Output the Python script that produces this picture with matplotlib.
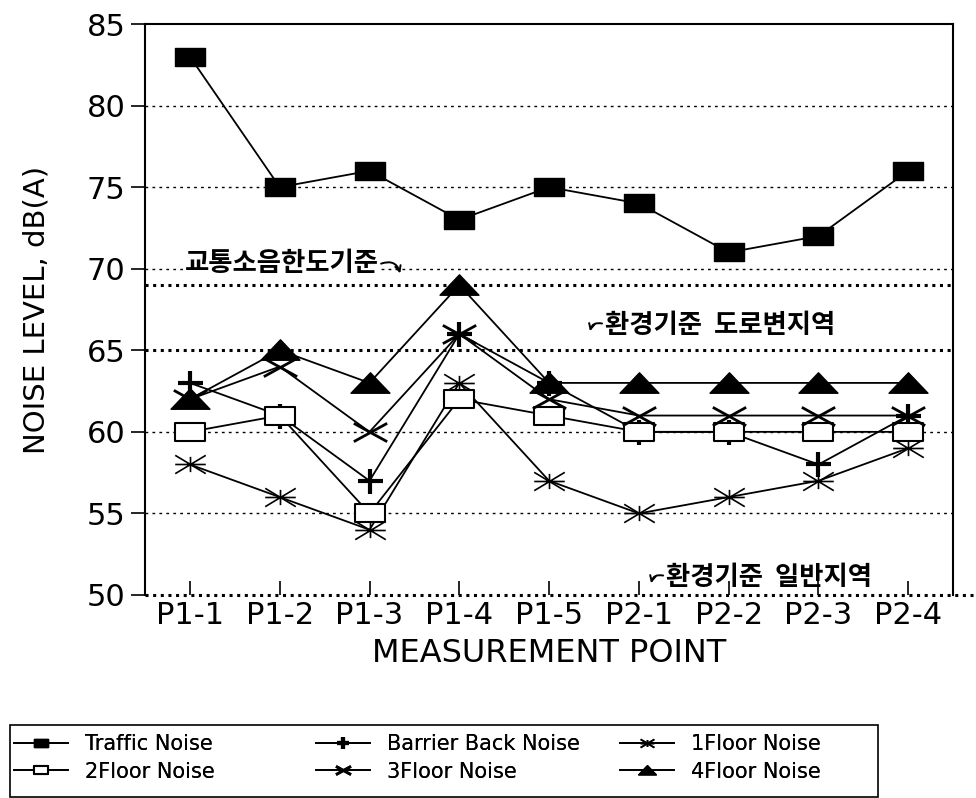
import matplotlib
matplotlib.use("Agg")
import matplotlib.pyplot as plt
from matplotlib.path import Path
from matplotlib.patches import Rectangle

plt.rcParams['font.family'] = ['DejaVu Sans', 'Noto Sans CJK KR']

points = ["P1-1", "P1-2", "P1-3", "P1-4", "P1-5", "P2-1", "P2-2", "P2-3", "P2-4"]
traffic = [83, 75, 76, 73, 75, 74, 71, 72, 76]
barrier = [63, 61, 57, 66, 63, 60, 60, 58, 61]
floor1 = [58, 56, 54, 63, 57, 55, 56, 57, 59]
floor2 = [60, 61, 55, 62, 61, 60, 60, 60, 60]
floor3 = [62, 64, 60, 66, 62, 61, 61, 61, 61]
floor4 = [62, 65, 63, 69, 63, 63, 63, 63, 63]
yticks = [50, 55, 60, 65, 70, 75, 80, 85]
ref_traffic_limit = 69
ref_roadside = 65
ref_general = 50

rect = Path([(-1, -0.6), (1, -0.6), (1, 0.6), (-1, 0.6), (-1, -0.6)],
            [Path.MOVETO, Path.LINETO, Path.LINETO, Path.LINETO, Path.CLOSEPOLY])
tri = Path([(-1, -0.5), (1, -0.5), (0, 0.55), (-1, -0.5)],
           [Path.MOVETO, Path.LINETO, Path.LINETO, Path.CLOSEPOLY])
aster = Path([(-1, 0), (1, 0), (-1, -0.6), (1, 0.6), (-1, 0.6), (1, -0.6), (0, -0.5), (0, 0.5)],
             [Path.MOVETO, Path.LINETO, Path.MOVETO, Path.LINETO, Path.MOVETO, Path.LINETO,
              Path.MOVETO, Path.LINETO])
xmark = Path([(-1, -0.55), (1, 0.55), (-1, 0.55), (1, -0.55)],
             [Path.MOVETO, Path.LINETO, Path.MOVETO, Path.LINETO])

fig = plt.figure(figsize=(9.76, 7.98), dpi=100)
ax = fig.add_axes([0.1486, 0.2544, 0.828, 0.7155])
x = list(range(len(points)))

# grid lines
for g in [55, 60, 70, 75, 80]:
    ax.axhline(g, color='black', lw=1.0, ls=(0, (2, 3)), zorder=1)
for g in [ref_traffic_limit, ref_roadside]:
    ax.axhline(g, color='black', lw=2.2, ls=(0, (1, 1.5)), zorder=1)
ax.plot([0, 1.03], [0, 0], transform=ax.transAxes, color='black', lw=2.2,
        ls=(0, (1, 1.5)), clip_on=False, zorder=1)

lw = 1.3
h_tr, = ax.plot(x, traffic, color='black', lw=lw, marker=rect, ms=22, mfc='black', mec='black', label='Traffic Noise', zorder=3)
h_ba, = ax.plot(x, barrier, color='black', lw=lw, marker='+', ms=18, mew=3, mec='black', label='Barrier Back Noise', zorder=3)
h_f1, = ax.plot(x, floor1, color='black', lw=lw, marker=aster, ms=22, mew=1.2, mec='black', label='1Floor Noise', zorder=3)
h_f2, = ax.plot(x, floor2, color='black', lw=lw, marker=rect, ms=22, mfc='white', mec='black', mew=1.5, label='2Floor Noise', zorder=3)
h_f3, = ax.plot(x, floor3, color='black', lw=lw, marker=xmark, ms=24, mew=2, mec='black', label='3Floor Noise', zorder=3)
h_f4, = ax.plot(x, floor4, color='black', lw=lw, marker=tri, ms=28, mfc='black', mec='black', label='4Floor Noise', zorder=3)

ax.set_xlim(-0.5, 8.5)
ax.set_ylim(50, 85)
ax.set_yticks(yticks)
ax.set_xticks(x)
ax.set_xticklabels(points)
ax.tick_params(axis='y', direction='out', length=10, width=1.2, labelsize=22, pad=4)
ax.tick_params(axis='x', direction='in', length=10, width=1.2, labelsize=22, pad=4)
for s in ax.spines.values():
    s.set_linewidth(1.5)
ax.spines['bottom'].set_visible(False)

ax.set_ylabel('NOISE LEVEL, dB(A)', fontsize=21)
ax.yaxis.set_label_coords(-0.117, 0.5)
ax.set_xlabel('MEASUREMENT POINT', fontsize=23, labelpad=6)

kfont = ['Noto Sans CJK KR']
ax.text(-0.06, 70.3, '교통소음한도기준', fontsize=19, fontweight='bold', family=kfont,
        va='center', ha='left', zorder=2,
        bbox=dict(facecolor='white', edgecolor='none', pad=1))
ax.annotate('', xy=(2.35, 69.55), xytext=(2.1, 70.25),
            arrowprops=dict(arrowstyle='->', color='black', lw=1.4,
                            connectionstyle='arc3,rad=-0.6'), zorder=2)
ax.text(4.62, 66.55, '환경기준  도로변지역', fontsize=19, fontweight='bold', family=kfont,
        va='center', ha='left', zorder=2)
ax.annotate('', xy=(4.45, 66.0), xytext=(4.62, 66.6),
            arrowprops=dict(arrowstyle='->', color='black', lw=1.4,
                            connectionstyle='arc3,rad=0.6'), zorder=2)
ax.text(5.3, 51.1, '환경기준  일반지역', fontsize=19, fontweight='bold', family=kfont,
        va='center', ha='left', zorder=2)
ax.annotate('', xy=(5.13, 50.55), xytext=(5.3, 51.15),
            arrowprops=dict(arrowstyle='->', color='black', lw=1.4,
                            connectionstyle='arc3,rad=0.6'), zorder=2)

# legend: three single-column legends inside one frame
W, H = 976.0, 798.0
fig.patches.append(Rectangle((10 / W, 1 / H), (878 - 10) / W, 72 / H,
                             transform=fig.transFigure, fill=False, edgecolor='black', lw=1.2))
cols = [([h_tr, h_f2], 14), ([h_ba, h_f3], 316), ([h_f1, h_f4], 620)]
for handles, px in cols:
    lg = fig.legend(handles=handles, loc='center left', bbox_to_anchor=(px / W, 1 - 758 / H),
                    fontsize=15, frameon=False, handlelength=2.6, handletextpad=0.8,
                    borderaxespad=0, borderpad=0, labelspacing=0.35, markerscale=0.45)
    fig.add_artist(lg)

fig.savefig('out.png', dpi=100)
